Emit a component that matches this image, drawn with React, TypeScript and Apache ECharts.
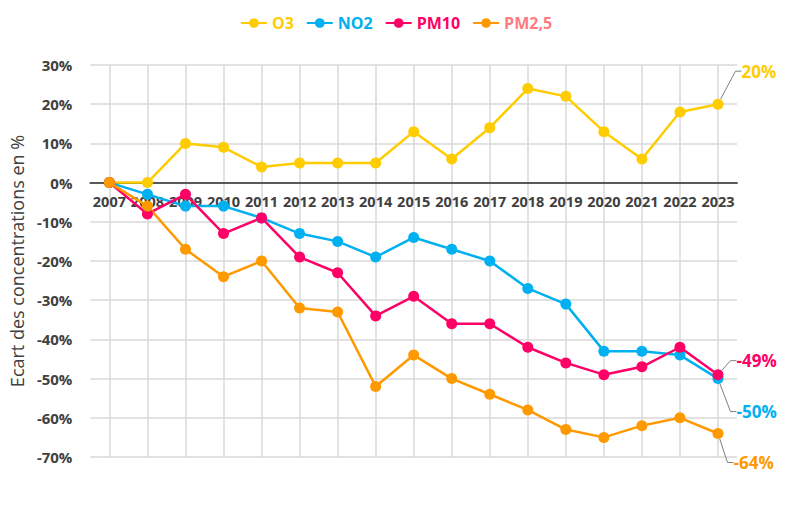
import React, { useEffect, useRef } from "react";
import * as echarts from "echarts";

const years = ["2007","2008","2009","2010","2011","2012","2013","2014","2015","2016","2017","2018","2019","2020","2021","2022","2023"];
const o3 = [0, 0, 10, 9, 4, 5, 5, 5, 13, 6, 14, 24, 22, 13, 6, 18, 20];
const no2 = [0, -3, -6, -6, -9, -13, -15, -19, -14, -17, -20, -27, -31, -43, -43, -44, -50];
const pm10 = [0, -8, -3, -13, -9, -19, -23, -34, -29, -36, -36, -42, -46, -49, -47, -42, -49];
const pm25 = [0, -6, -17, -24, -20, -32, -33, -52, -44, -50, -54, -58, -63, -65, -62, -60, -64];

const seriesNames = ["O3", "NO2", "PM10", "PM2,5"];
const seriesData = [o3, no2, pm10, pm25];
const lineColors = ["#FFCC00", "#00B0F0", "#FF0066", "#FF9900"];
const legendColors = ["#FFCC00", "#00B0F0", "#FF0066", "#FF7C80"];
const endLabelShift = [
  { dx: 13, dy: -33 },
  { dx: 8, dy: 33 },
  { dx: 8, dy: -14 },
  { dx: 5, dy: 29 },
];

const Y_MIN = -70;
const Y_MAX = 30;
const FONT = "'Open Sans', sans-serif";
const W = 792;
const H = 516;
const GRID = { left: 86, right: 55, top: 65, bottom: 59 };

export default function App() {
  const ref = useRef<HTMLDivElement>(null);
  useEffect(() => {
    if (!ref.current) return;
    const chart = echarts.init(ref.current, null, { renderer: "svg" });
    const last = years.length - 1;
    const gridH = H - GRID.top - GRID.bottom;
    const zeroOffset = -gridH * (0 - Y_MIN) / (Y_MAX - Y_MIN);
    chart.setOption({
      animation: false,
      backgroundColor: "#ffffff",
      textStyle: { fontFamily: FONT },
      legend: {
        top: 10,
        left: "center",
        itemWidth: 26,
        itemHeight: 12,
        itemGap: 12,
        data: seriesNames.map((n, i) => ({
          name: n,
          textStyle: { color: legendColors[i], fontWeight: "bold", fontSize: 16, fontFamily: FONT },
        })),
      },
      grid: { ...GRID, containLabel: false },
      xAxis: {
        type: "category",
        data: years,
        boundaryGap: true,
        offset: zeroOffset,
        axisLine: { show: true, onZero: false, lineStyle: { color: "#595959", width: 2 } },
        axisTick: { show: false, alignWithLabel: true },
        splitLine: { show: true, alignWithLabel: true, lineStyle: { color: "#d9d9d9", width: 1.5 } },
        axisLabel: { color: "#404040", fontWeight: "bold", fontSize: 14.5, margin: 11, fontFamily: FONT, interval: 0 },
      },
      yAxis: {
        type: "value",
        min: Y_MIN,
        max: Y_MAX,
        interval: 10,
        name: "Ecart des concentrations en %",
        nameLocation: "middle",
        nameGap: 58,
        nameRotate: 90,
        nameTextStyle: { color: "#404040", fontSize: 18, fontWeight: 500, fontFamily: FONT },
        axisLine: { show: false },
        axisTick: { show: false },
        splitLine: { show: true, lineStyle: { color: "#d9d9d9", width: 1.5 } },
        axisLabel: { formatter: "{value}%", color: "#404040", fontWeight: "bold", fontSize: 15, margin: 18, fontFamily: FONT },
      },
      series: seriesNames.map((n, i) => ({
        name: n,
        type: "line",
        data: seriesData[i].map((v, j) => (j === last ? { value: v, label: { show: true } } : v)),
        symbol: "circle",
        symbolSize: 11,
        itemStyle: { color: lineColors[i] },
        lineStyle: { color: lineColors[i], width: 2.5 },
        label: {
          show: false,
          position: "right",
          formatter: "{c}%",
          color: lineColors[i],
          fontWeight: "bold",
          fontSize: 17,
          fontFamily: FONT,
        },
        labelLayout: { dx: endLabelShift[i].dx, dy: endLabelShift[i].dy },
        labelLine: { show: true, length2: 6, lineStyle: { color: "#7f7f7f", width: 1 } },
      })),
    });
    return () => chart.dispose();
  }, []);
  return <div ref={ref} style={{ position: "fixed", left: 0, top: 0, width: W, height: H }} />;
}
